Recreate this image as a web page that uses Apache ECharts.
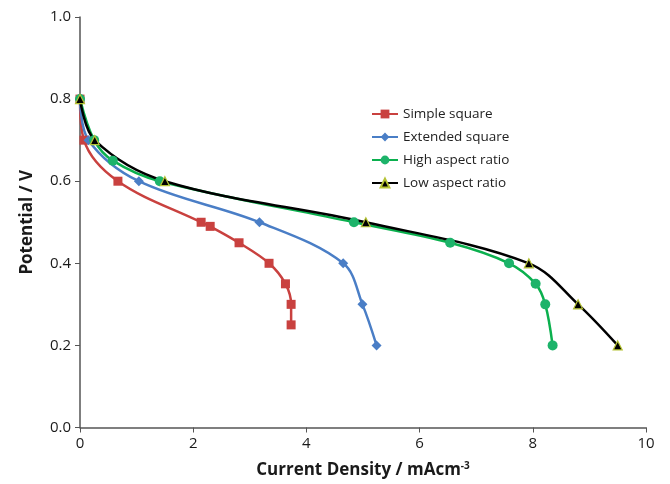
<!DOCTYPE html>
<html>
<head>
<meta charset="utf-8">
<script src="https://cdn.jsdelivr.net/npm/echarts@6/dist/echarts.min.js"></script>
<style>html,body{margin:0;padding:0;background:#fff}#c{width:670px;height:484px}</style>
</head>
<body>
<div id="c"></div>
<script>
const seriesNames = ['Simple square', 'Extended square', 'High aspect ratio', 'Low aspect ratio'];
const simpleSquare = [[0,0.8],[0.07,0.7],[0.67,0.6],[2.14,0.5],[2.3,0.49],[2.81,0.45],[3.34,0.4],[3.63,0.35],[3.73,0.3],[3.73,0.25]];
const extendedSquare = [[0,0.8],[0.15,0.7],[1.04,0.6],[3.17,0.5],[4.65,0.4],[4.99,0.3],[5.24,0.2]];
const highAspect = [[0,0.8],[0.25,0.7],[0.58,0.65],[1.41,0.6],[4.84,0.5],[6.54,0.45],[7.58,0.4],[8.05,0.35],[8.22,0.3],[8.35,0.2]];
const lowAspect = [[0,0.8],[0.26,0.7],[1.5,0.6],[5.05,0.5],[7.93,0.4],[8.8,0.3],[9.5,0.2]];
const xTicks = [0,2,4,6,8,10];
const yTicks = [0.0,0.2,0.4,0.6,0.8,1.0];

const chart = echarts.init(document.getElementById('c'), null, {renderer:'canvas'});
const font = '"Open Sans", "Noto Sans", sans-serif';
function mk(name, data, color, symbol, size, mcolor, border) {
  return {
    name, type:'line', data, smooth:0.35, symbol, symbolSize:size,
    lineStyle:{color, width:2.5},
    itemStyle:{color:mcolor||color, borderColor:border||mcolor||color, borderWidth:border?1.2:0},
    emphasis:{disabled:true}
  };
}
chart.setOption({
  animation:false,
  backgroundColor:'#fff',
  grid:{left:80, right:24, top:17, bottom:56},
  legend:{
    left:366, top:102, orient:'vertical', itemGap:9, itemWidth:26, itemHeight:11,
    textStyle:{fontFamily:font, fontSize:13.5, color:'#222'},
    data:seriesNames
  },
  xAxis:{
    type:'value', min:0, max:10, interval:2,
    axisLine:{show:true, lineStyle:{color:'#555', width:1.5}},
    axisTick:{show:true, length:5, lineStyle:{color:'#555'}},
    splitLine:{show:false},
    axisLabel:{fontFamily:font, fontSize:15, color:'#1a1a1a', margin:9,
      formatter:v=> xTicks.includes(v) ? String(v) : ''},
    name:'Current Density / mAcm{sup|-3}', nameLocation:'middle', nameGap:34,
    nameTextStyle:{fontFamily:font, fontSize:17, fontWeight:'bold', color:'#1a1a1a',
      rich:{sup:{fontFamily:font, fontSize:10, fontWeight:'bold', color:'#1a1a1a', verticalAlign:'top', padding:[0,0,8,0]}}}
  },
  yAxis:{
    type:'value', min:0, max:1, interval:0.2,
    axisLine:{show:true, lineStyle:{color:'#555', width:1.5}},
    axisTick:{show:true, length:5, lineStyle:{color:'#555'}},
    splitLine:{show:false},
    axisLabel:{fontFamily:font, fontSize:15, color:'#1a1a1a', margin:9,
      formatter:v=> yTicks.some(t=>Math.abs(t-v)<1e-9) ? v.toFixed(1) : ''},
    name:'Potential / V', nameLocation:'middle', nameGap:44, nameRotate:90,
    nameTextStyle:{fontFamily:font, fontSize:17, fontWeight:'bold', color:'#1a1a1a'}
  },
  series:[
    mk(seriesNames[0], simpleSquare, '#C9413F', 'rect', 9),
    mk(seriesNames[1], extendedSquare, '#4A7EC6', 'diamond', 10),
    mk(seriesNames[2], highAspect, '#0BB04E', 'circle', 10, '#1DB36A'),
    mk(seriesNames[3], lowAspect, '#000000', 'triangle', 9, '#000000', '#B5C334')
  ]
});
</script>
</body>
</html>
